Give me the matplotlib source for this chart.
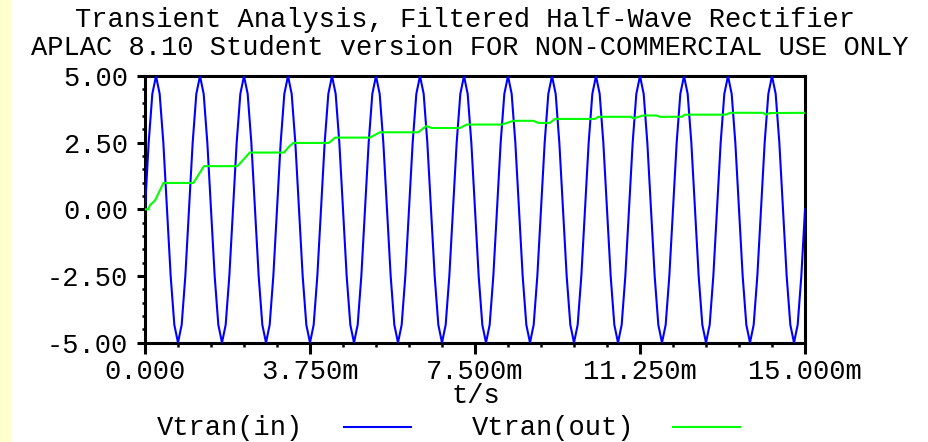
import matplotlib
matplotlib.use('Agg')
import matplotlib.pyplot as plt
import numpy as np
from matplotlib.lines import Line2D
from matplotlib.patches import Rectangle
from matplotlib.ticker import MultipleLocator, FixedLocator, FixedFormatter

# ---------------- data ----------------
title_line1 = "Transient Analysis, Filtered Half-Wave Rectifier"
title_line2 = "APLAC 8.10 Student version FOR NON-COMMERCIAL USE ONLY"
x_label = "t/s"
series_names = ["Vtran(in)", "Vtran(out)"]
x_ticks_ms = [0, 3.75, 7.5, 11.25, 15]
x_tick_labels = ["0.000", "3.750m", "7.500m", "11.250m", "15.000m"]
y_ticks = [-5, -2.5, 0, 2.5, 5]
y_tick_labels = ["-5.00", "-2.50", "0.00", "2.50", "5.00"]

t_in_ms = np.linspace(0, 15, 181)
v_in = [
    0, 2.5, 4.33, 5, 4.33, 2.5, 0, -2.5, -4.33, -5, -4.33, -2.5,
    0, 2.5, 4.33, 5, 4.33, 2.5, 0, -2.5, -4.33, -5, -4.33, -2.5,
    0, 2.5, 4.33, 5, 4.33, 2.5, 0, -2.5, -4.33, -5, -4.33, -2.5,
    0, 2.5, 4.33, 5, 4.33, 2.5, 0, -2.5, -4.33, -5, -4.33, -2.5,
    0, 2.5, 4.33, 5, 4.33, 2.5, 0, -2.5, -4.33, -5, -4.33, -2.5,
    0, 2.5, 4.33, 5, 4.33, 2.5, 0, -2.5, -4.33, -5, -4.33, -2.5,
    0, 2.5, 4.33, 5, 4.33, 2.5, 0, -2.5, -4.33, -5, -4.33, -2.5,
    0, 2.5, 4.33, 5, 4.33, 2.5, 0, -2.5, -4.33, -5, -4.33, -2.5,
    0, 2.5, 4.33, 5, 4.33, 2.5, 0, -2.5, -4.33, -5, -4.33, -2.5,
    0, 2.5, 4.33, 5, 4.33, 2.5, 0, -2.5, -4.33, -5, -4.33, -2.5,
    0, 2.5, 4.33, 5, 4.33, 2.5, 0, -2.5, -4.33, -5, -4.33, -2.5,
    0, 2.5, 4.33, 5, 4.33, 2.5, 0, -2.5, -4.33, -5, -4.33, -2.5,
    0, 2.5, 4.33, 5, 4.33, 2.5, 0, -2.5, -4.33, -5, -4.33, -2.5,
    0, 2.5, 4.33, 5, 4.33, 2.5, 0, -2.5, -4.33, -5, -4.33, -2.5,
    0, 2.5, 4.33, 5, 4.33, 2.5, 0, -2.5, -4.33, -5, -4.33, -2.5,
    0,
]

# output voltage (filtered), breakpoints
t_out_ms = [0, 0.08, 0.11, 0.23, 0.42, 1.10, 1.34, 2.10, 2.24, 2.38, 3.16, 3.26,
            3.37, 4.18, 4.32, 5.11, 5.34, 6.21, 6.39, 6.52, 7.16, 7.31, 8.11,
            8.30, 8.37, 8.83, 8.94, 9.20, 9.32, 10.23, 10.30, 11.05, 11.10,
            11.32, 11.63, 11.70, 12.20, 12.27, 13.20, 13.30, 14.05, 14.11,
            14.19, 15.0]
v_out = [0, 0, 0.15, 0.34, 0.99, 0.99, 1.62, 1.62, 1.87, 2.13, 2.13, 2.33,
         2.49, 2.49, 2.69, 2.69, 2.89, 2.89, 3.12, 3.05, 3.05, 3.18, 3.18,
         3.28, 3.32, 3.32, 3.24, 3.24, 3.39, 3.39, 3.47, 3.47, 3.41,
         3.52, 3.52, 3.47, 3.47, 3.55, 3.55, 3.62, 3.62, 3.55,
         3.61, 3.62]

# ---------------- figure ----------------
W, H = 929, 442
FONT = 'Liberation Mono'
FS = 19.5
plt.rcParams['font.family'] = [FONT, 'DejaVu Sans']

fig = plt.figure(figsize=(W / 100, H / 100), dpi=100)
fig.patch.set_facecolor('white')
fig.patches.append(Rectangle((0, 0), 12 / W, 1, transform=fig.transFigure,
                             facecolor='#FFFFCC', edgecolor='none', zorder=0))

ax = fig.add_axes([145 / W, 1 - 342.7 / H, 660 / W, (342.7 - 76) / H])
ax.plot(t_in_ms, v_in, color='#0000FF', lw=1.5, zorder=3)
ax.plot(t_out_ms, v_out, color='#00FF00', lw=1.5, zorder=4)

ax.set_xlim(0, 15)
ax.set_ylim(-5, 5)
ax.xaxis.set_major_locator(FixedLocator(x_ticks_ms))
ax.xaxis.set_major_formatter(FixedFormatter(x_tick_labels))
ax.xaxis.set_minor_locator(MultipleLocator(0.75))
ax.yaxis.set_major_locator(FixedLocator(y_ticks))
ax.yaxis.set_major_formatter(FixedFormatter(y_tick_labels))
ax.yaxis.set_minor_locator(MultipleLocator(0.5))

for s in ax.spines.values():
    s.set_linewidth(2.2)
    s.set_color('black')

ax.tick_params(axis='x', which='major', direction='out', length=8, width=2.2,
               labelsize=FS, pad=4)
ax.tick_params(axis='x', which='minor', direction='out', length=3, width=1.8)
ax.tick_params(axis='y', which='major', direction='out', length=6, width=2.2,
               labelsize=FS, pad=6)
ax.tick_params(axis='y', which='minor', direction='out', length=2.5, width=1.8)
for lab in ax.get_xticklabels() + ax.get_yticklabels():
    lab.set_family(FONT)

ax.set_xlabel(x_label, fontsize=FS, family=FONT)
ax.xaxis.label.set_va('center')
ax.xaxis.set_label_coords((476 - 145) / 660, (342.7 - 396) / (342.7 - 76))

fig.text(465 / W, 1 - 27 / H, title_line1, ha='center', va='baseline',
         fontsize=FS, family=FONT)
fig.text(470 / W, 1 - 55 / H, title_line2, ha='center', va='baseline',
         fontsize=FS, family=FONT)

# legend row
fig.text(157 / W, 1 - 428 / H, series_names[0], ha='left', va='center',
         fontsize=FS, family=FONT)
fig.add_artist(Line2D([344 / W, 411 / W], [1 - 427 / H] * 2,
                      transform=fig.transFigure, color='#0000FF', lw=1.5))
fig.text(472 / W, 1 - 428 / H, series_names[1], ha='left', va='center',
         fontsize=FS, family=FONT)
fig.add_artist(Line2D([673 / W, 740 / W], [1 - 427 / H] * 2,
                      transform=fig.transFigure, color='#00FF00', lw=1.5))

fig.savefig('out.png', dpi=100)
